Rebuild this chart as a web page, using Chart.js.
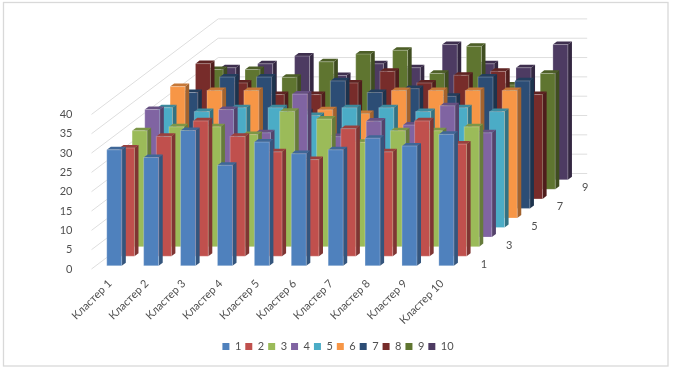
<!DOCTYPE html>
<html>
<head>
<meta charset="utf-8">
<script src="https://cdn.jsdelivr.net/npm/chart.js@4"></script>
<style>
  body { margin: 0; background: #fff; }
  canvas { display: block; }
</style>
</head>
<body>
<canvas id="chart3d" width="673" height="370"></canvas>
<script>
const clusters = ["Кластер 1", "Кластер 2", "Кластер 3", "Кластер 4", "Кластер 5", "Кластер 6", "Кластер 7", "Кластер 8", "Кластер 9", "Кластер 10"];
const seriesNames = ["1", "2", "3", "4", "5", "6", "7", "8", "9", "10"];
const depthTicks = ["1", "3", "5", "7", "9"];

const series1 = [30, 28, 35, 26, 32, 29, 30, 33, 31, 34];
const series2 = [28, 31, 35, 31, 27, 25, 33, 27, 35, 29];
const series3 = [30, 31, 31, 29, 35, 33, 27, 30, 30, 31];
const series4 = [33, 25, 33, 27, 37, 26, 30, 29, 34, 27];
const series5 = [31, 30, 31, 31, 29, 31, 31, 30, 31, 30];
const series6 = [34, 33, 33, 25, 28, 27, 33, 33, 33, 33];
const series7 = [30, 34, 34, 25, 33, 30, 31, 29, 34, 33];
const series8 = [35, 30, 27, 27, 30, 33, 30, 32, 33, 27];
const series9 = [31, 31, 29, 33, 35, 36, 30, 37, 27, 30];
const series10 = [29, 30, 32, 27, 30, 29, 35, 30, 29, 35];
const allSeries = [series1, series2, series3, series4, series5, series6, series7, series8, series9, series10];

const colors = ["#4F81BD", "#C0504D", "#9BBB59", "#8064A2", "#4BACC6", "#F79646", "#2C4D75", "#772C2A", "#5F7530", "#4D3B62"];

// наклон глубины: сдвиг на один ряд
const stepX = 12.67;
const stepY = 9.55;
const gap = 0.34;   // отступ столбика внутри ряда
const thick = 0.32; // толщина столбика по глубине

function shade(hex, f) {
  const n = parseInt(hex.slice(1), 16);
  const r = Math.round((n >> 16) * f);
  const g = Math.round(((n >> 8) & 255) * f);
  const b = Math.round((n & 255) * f);
  return `rgb(${r},${g},${b})`;
}

function poly(ctx, pts, fill) {
  ctx.beginPath();
  pts.forEach((p, i) => i ? ctx.lineTo(p[0], p[1]) : ctx.moveTo(p[0], p[1]));
  ctx.closePath();
  ctx.fillStyle = fill;
  ctx.fill();
}

const frame = {
  id: "frame",
  beforeDraw(chart) {
    const { ctx } = chart;
    ctx.save();
    ctx.strokeStyle = "#D9D9D9";
    ctx.lineWidth = 1.3;
    ctx.strokeRect(3.5, 2.5, 664.5, 363.5);
    ctx.restore();
  }
};

const walls = {
  id: "walls",
  beforeDatasetsDraw(chart) {
    const { ctx, scales, chartArea } = chart;
    const dx = stepX * allSeries.length;
    const dy = stepY * allSeries.length;
    ctx.save();
    ctx.strokeStyle = "#DEDEDE";
    ctx.lineWidth = 1;
    scales.y.ticks.forEach(t => {
      const y = scales.y.getPixelForValue(t.value);
      ctx.beginPath();
      ctx.moveTo(chartArea.left, y);
      ctx.lineTo(chartArea.left + dx, y - dy);
      ctx.lineTo(chartArea.right + dx, y - dy);
      ctx.stroke();
    });
    ctx.restore();
  }
};

const bars3d = {
  id: "bars3d",
  beforeDatasetsDraw(chart) {
    const { ctx, chartArea } = chart;
    ctx.save();
    for (let d = chart.data.datasets.length - 1; d >= 0; d--) {
      const meta = chart.getDatasetMeta(d);
      const color = chart.data.datasets[d].backgroundColor;
      const ox = (d + gap) * stepX;
      const oy = (d + gap) * stepY;
      const sx = thick * stepX;
      const sy = thick * stepY;
      meta.data.forEach(bar => {
        const p = bar.getProps(["x", "y", "base", "width"], true);
        const l = p.x - p.width / 2 + ox;
        const r = p.x + p.width / 2 + ox;
        const top = p.y - oy;
        const bottom = p.base - oy;
        poly(ctx, [[r, top], [r + sx, top - sy], [r + sx, bottom - sy], [r, bottom]], shade(color, 0.66));
        poly(ctx, [[l, top], [l + sx, top - sy], [r + sx, top - sy], [r, top]], shade(color, 0.8));
        poly(ctx, [[l, top], [r, top], [r, bottom], [l, bottom]], color);
        ctx.strokeStyle = "rgba(255,255,255,0.25)";
        ctx.lineWidth = 1;
        ctx.strokeRect(l, top, r - l, bottom - top);
      });
    }
    // подписи оси рядов
    ctx.fillStyle = "#505050";
    ctx.font = "11px Lato, 'Open Sans', sans-serif";
    ctx.textAlign = "center";
    ctx.textBaseline = "middle";
    depthTicks.forEach(label => {
      const d = seriesNames.indexOf(label);
      ctx.fillText(label, chartArea.right + (d + 0.5) * stepX + 17, chartArea.bottom - (d + 0.5) * stepY);
    });
    ctx.restore();
    return false;
  }
};

Chart.defaults.font.family = "Lato, 'Open Sans', sans-serif";

new Chart(document.getElementById("chart3d").getContext("2d"), {
  type: "bar",
  data: {
    labels: clusters,
    datasets: allSeries.map((values, i) => ({
      label: seriesNames[i],
      data: values,
      backgroundColor: colors[i],
      grouped: false,
      categoryPercentage: 1,
      barPercentage: 0.4065
    }))
  },
  options: {
    responsive: false,
    animation: false,
    layout: { padding: { left: 3, right: 0, top: 114.4, bottom: 8 } },
    plugins: {
      tooltip: { enabled: false },
      legend: {
        position: "bottom",
        labels: {
          boxWidth: 7,
          boxHeight: 7,
          padding: 4,
          color: "#505050",
          font: { size: 11 }
        }
      }
    },
    scales: {
      x: {
        grid: { display: false },
        border: { display: false },
        afterFit(scale) { scale.height = 68; },
        ticks: {
          autoSkip: false,
          minRotation: 45,
          maxRotation: 45,
          padding: 0,
          color: "#505050",
          font: { size: 11 }
        }
      },
      y: {
        min: 0,
        max: 40,
        grid: { display: false },
        border: { display: false },
        afterFit(scale) { scale.width = 88.5; },
        ticks: {
          stepSize: 5,
          padding: 11,
          color: "#505050",
          font: { size: 11 }
        }
      },
      // пустая ось справа: оставляет место под глубину
      depth: {
        position: "right",
        grid: { display: false },
        border: { display: false },
        ticks: { display: false },
        afterFit(scale) { scale.width = 212.5; }
      }
    }
  },
  plugins: [frame, walls, bars3d]
});
</script>
</body>
</html>
